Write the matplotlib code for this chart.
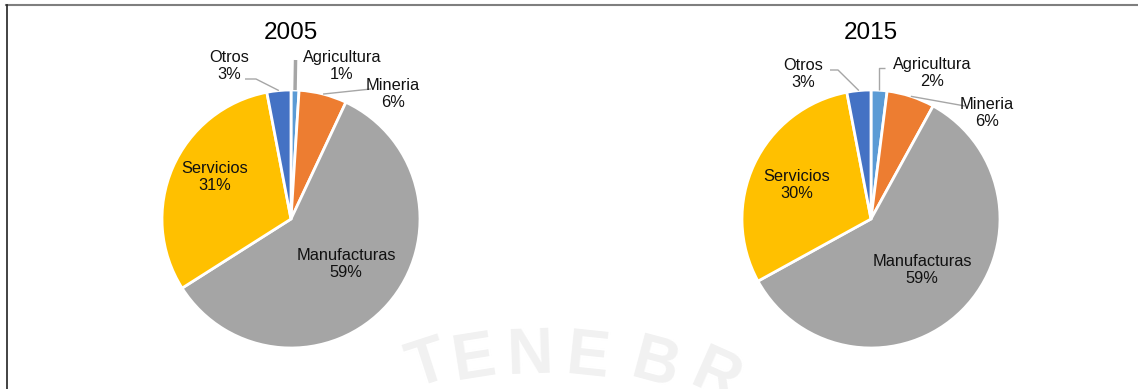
import numpy as np
import matplotlib
matplotlib.use("Agg")
import matplotlib.pyplot as plt

plt.rcParams['font.family'] = ['Liberation Sans', 'DejaVu Sans']

# Data
sectors = ["Agricultura", "Mineria", "Manufacturas", "Servicios", "Otros"]
years = ["2005", "2015"]
shares_2005 = [1, 6, 59, 31, 3]
shares_2015 = [2, 6, 59, 30, 3]
colors = ["#5B9BD5", "#ED7D31", "#A5A5A5", "#FFC000", "#4472C4"]

W, H = 1138, 389
fig = plt.figure(figsize=(W / 100, H / 100), dpi=100)
ax = fig.add_axes([0, 0, 1, 1])
ax.set_xlim(0, W)
ax.set_ylim(0, H)
ax.set_aspect('equal')
ax.axis('off')


def py(y):
    """Pixel row (top origin) to axis y."""
    return H - y


# Watermark letters along an arc
wm_letters = ["T", "E", "N", "E", "B", "R"]
wm_x = [428, 474, 530, 588, 655, 716]
wm_y = [366, 360, 356, 358, 366, 378]
wm_rot = [18, 9, 2, -6, -15, -24]
for ch, x, y, r in zip(wm_letters, wm_x, wm_y, wm_rot):
    ax.text(x, py(y), ch, fontsize=46, fontweight='bold', color='#f1f1f1',
            ha='center', va='center', rotation=r, zorder=0,
            family='Liberation Sans')

# Layout of each pie and its labels (pixel coordinates, top origin)
centers = [(291, 219), (871, 219)]
radius = 129
title_pos = [(291, 33), (871, 33)]
label_pos = [
    {"Otros": (229, 66), "Agricultura": (342, 66), "Mineria": (393, 94),
     "Servicios": (215, 177), "Manufacturas": (346, 264)},
    {"Otros": (803, 74), "Agricultura": (932, 73), "Mineria": (987, 113),
     "Servicios": (797, 185), "Manufacturas": (922, 270)},
]
leaders = [
    {"Otros": [(245, 79), (256, 79)], "Agricultura": [(296, 60)],
     "Mineria": [(371, 89)]},
    {"Otros": [(830, 70), (838, 70)], "Agricultura": [(875, 68), (885, 68)],
     "Mineria": [(965, 106)]},
]
leader_lw = [{"Otros": 1.0, "Agricultura": 2.5, "Mineria": 1.0},
             {"Otros": 1.0, "Agricultura": 1.0, "Mineria": 1.0}]

for i, (year, vals) in enumerate(zip(years, [shares_2005, shares_2015])):
    cx, cy = centers[i]
    wedges, _ = ax.pie(vals, colors=colors, startangle=90, counterclock=False,
                       center=(cx, py(cy)), radius=radius, frame=True,
                       wedgeprops=dict(edgecolor='white', linewidth=2))
    ax.text(title_pos[i][0], py(title_pos[i][1]), year, fontsize=17.5,
            ha='center', va='center', color='black')
    total = sum(vals)
    for name, v, w in zip(sectors, vals, wedges):
        lx, ly = label_pos[i][name]
        ax.text(lx, py(ly), f"{name}\n{round(100 * v / total)}%", fontsize=11.8,
                ha='center', va='center', color='#111111', linespacing=1.22,
                zorder=5)
        if name in leaders[i]:
            mid = np.deg2rad((w.theta1 + w.theta2) / 2)
            ex = cx + radius * np.cos(mid)
            ey = cy - radius * np.sin(mid)
            path = [(ex, ey)]
            if name == "Agricultura" and i == 0:
                path.append((ex + 0.5, leaders[i][name][0][1]))
            elif name == "Agricultura":
                path.append((ex, leaders[i][name][0][1]))
                path.append(leaders[i][name][1])
            else:
                path += leaders[i][name][::-1]
            xs = [p[0] for p in path]
            ys = [py(p[1]) for p in path]
            ax.plot(xs, ys, color='#A6A6A6', lw=leader_lw[i][name], zorder=4,
                    solid_capstyle='butt')

ax.set_xlim(0, W)
ax.set_ylim(0, H)
ax.axis('off')

# Frame edges
fig.add_artist(plt.Line2D([6 / W, 1], [1 - 4.5 / H, 1 - 4.5 / H],
                          color='#7f7f7f', lw=1.5))
fig.add_artist(plt.Line2D([6.5 / W, 6.5 / W], [0, 1 - 4.5 / H],
                          color='#222222', lw=1.2))

fig.savefig("out.png", dpi=100)
